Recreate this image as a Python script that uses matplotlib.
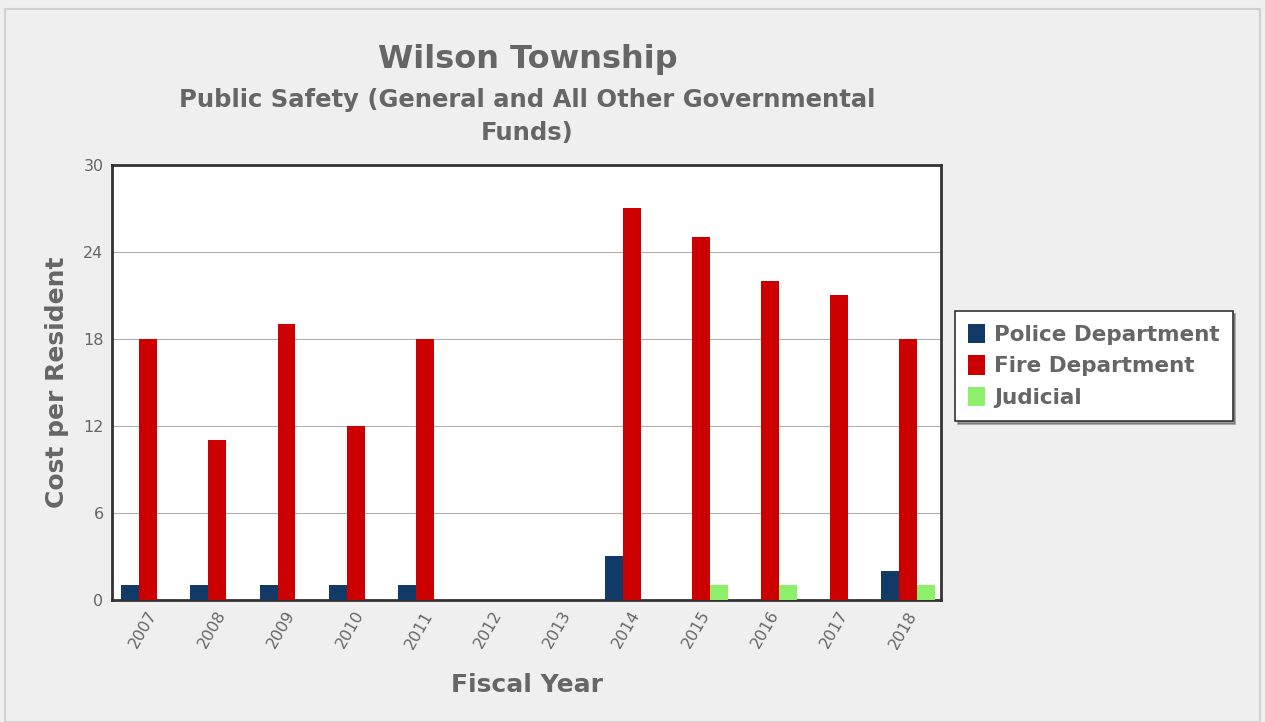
import numpy as np
import matplotlib
matplotlib.use('Agg')
import matplotlib.pyplot as plt
from matplotlib.patches import Rectangle

years = ['2007', '2008', '2009', '2010', '2011', '2012', '2013',
         '2014', '2015', '2016', '2017', '2018']
police = [1, 1, 1, 1, 1, 0, 0, 3, 0, 0, 0, 2]
fire = [18, 11, 19, 12, 18, 0, 0, 27, 25, 22, 21, 18]
judicial = [0, 0, 0, 0, 0, 0, 0, 0, 1, 1, 0, 1]

series = [('Police Department', police, '#123a66'),
          ('Fire Department', fire, '#cc0000'),
          ('Judicial', judicial, '#8ef06a')]

txt = '#666666'

fig = plt.figure(figsize=(12.65, 7.22), dpi=100)
fig.patch.set_facecolor('#efefef')
fig.patches.append(Rectangle((0.004, 0.0), 0.992, 0.988, transform=fig.transFigure,
                             fill=False, edgecolor='#d0d0d0', linewidth=1.5))

ax = fig.add_axes([0.0885, 0.169, 0.6555, 0.6025])
ax.set_facecolor('white')

x = np.arange(len(years))
w = 0.26
for i, (name, vals, col) in enumerate(series):
    ax.bar(x + (i - 0.9) * w, vals, w, color=col, label=name, zorder=3)

ax.set_xlim(-0.5, len(years) - 0.5)
ax.set_ylim(0, 30)
ax.set_yticks([0, 6, 12, 18, 24, 30])
ax.set_xticks(x)
ax.set_xticklabels(years, rotation=60, ha='right', rotation_mode='anchor')
ax.yaxis.grid(True, color='#b0b0b0', linewidth=0.8, zorder=0)
ax.tick_params(axis='both', length=0, labelsize=11.5, labelcolor=txt, pad=6)
for s in ax.spines.values():
    s.set_color('#333333')
    s.set_linewidth(2)

ax.set_ylabel('Cost per Resident', fontsize=18, fontweight='bold', color=txt, labelpad=10)
ax.set_xlabel('Fiscal Year', fontsize=18, fontweight='bold', color=txt, labelpad=16)

fig.text(0.417, 0.917, 'Wilson Township', ha='center', va='center',
         fontsize=23, fontweight='bold', color=txt)
fig.text(0.417, 0.839, 'Public Safety (General and All Other Governmental\nFunds)',
         ha='center', va='center', fontsize=17.5, fontweight='bold', color=txt,
         linespacing=1.45)

leg = ax.legend(loc='center left', bbox_to_anchor=(1.017, 0.538), borderaxespad=0,
                fontsize=15.5, frameon=True, fancybox=False, shadow=True,
                handlelength=0.8, handleheight=1.0, handletextpad=0.4,
                borderpad=0.6, labelspacing=0.5)
leg.get_frame().set_edgecolor('#333333')
leg.get_frame().set_linewidth(1.2)
for t in leg.get_texts():
    t.set_color(txt)
    t.set_fontweight('bold')

fig.savefig('out.png', dpi=100, facecolor=fig.get_facecolor())
